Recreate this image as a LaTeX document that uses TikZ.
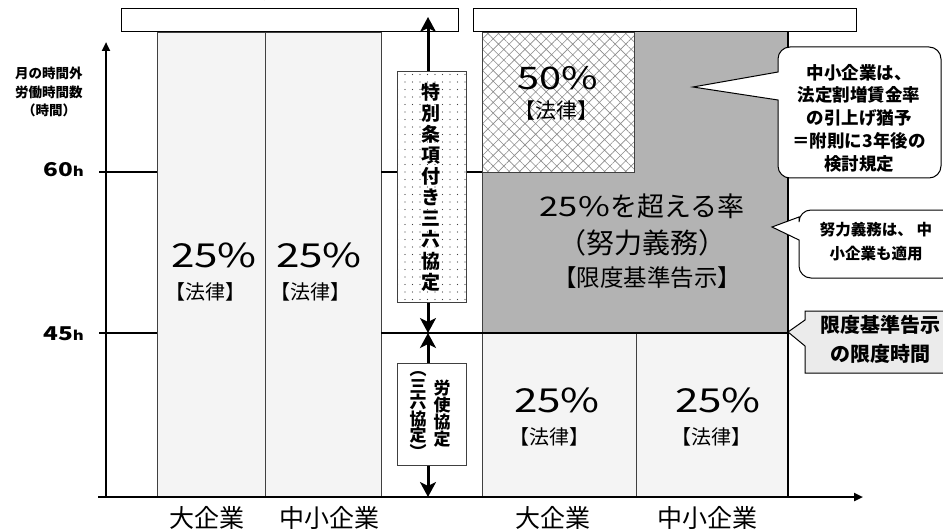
\documentclass[tikz,border=0pt]{standalone}
\usepackage{fontspec}
\setmainfont{Noto Sans CJK JP}
\usetikzlibrary{arrows.meta,patterns.meta}
\definecolor{barfill}{HTML}{F4F4F4}
\definecolor{barline}{HTML}{404040}
\definecolor{darkfill}{HTML}{B3B3B3}
\definecolor{notefill}{HTML}{EBEBEB}
\definecolor{hatchcol}{HTML}{8C8C8C}
\newcommand\widen[1]{\scalebox{1.28}[1]{#1}}
\newcommand\fs[2]{\fontsize{#1}{#2}\selectfont}
\begin{document}
\begin{tikzpicture}[x=1pt,y=-1pt,
  bar/.style={fill=barfill, draw=barline, line width=0.8pt},
  hline/.style={line width=2.6pt},
  axis/.style={line width=2.6pt, -{Triangle[length=9pt,width=8pt]}},
  span/.style={line width=3pt, {Stealth[length=15pt,width=16pt,inset=4pt]}-{Stealth[length=15pt,width=16pt,inset=4pt]}},
  hdr/.style={draw=black, fill=white, line width=1pt},
  lbl/.style={inner sep=0pt, align=center},
  callout/.style={draw=black, fill=white, line width=1pt},
]
\useasboundingbox (0,0) rectangle (943,532);

% level lines (left part, under the bars)
\draw[hline] (99,172) -- (157,172);
\draw[hline] (99,333) -- (157,333);

% current: two full bars
\draw[bar] (157,32) rectangle (265,497);
\draw[bar] (265,32) rectangle (381,497);

% revised: upper grey area
\fill[darkfill] (482,32) rectangle (788,333);
\draw[barline, line width=0.8pt] (482,32) -- (482,333);
% 50% cross-hatched block
\fill[white] (482,32) rectangle (634,172);
\fill[pattern={Hatch[angle=45,distance=7.5pt,line width=0.6pt]}, pattern color=hatchcol] (482,32) rectangle (634,172);
\draw[barline, line width=0.9pt] (482,32) rectangle (634,172);
% lower bars
\draw[bar] (482,333) rectangle (636,497);
\draw[bar] (636,333) rectangle (788,497);
\draw[line width=1.8pt] (788,32) -- (788,497);

% level lines (right part)
\draw[hline] (381,172) -- (482,172);
\draw[hline] (381,333) -- (788,333);

% axes
\draw[axis] (106,497) -- (106,42);
\draw[axis] (98,497) -- (863,497);

% header boxes
\draw[hdr] (121,9) rectangle (458,32);
\draw[hdr] (473,9) rectangle (856,32);
\node[anchor=base, inner sep=0pt, font=\bfseries\fs{21}{21}] (hcur) at (278,-1.5) {【現行】};
\node[anchor=base, inner sep=0pt, font=\bfseries\fs{21}{21}] (hnew) at (643,-1.5) {【改正後】};

% span arrows
\coordinate (atop) at (428,17);
\coordinate (amid) at (428,333);
\coordinate (abot) at (428,497);
\draw[span] (atop) -- (amid);
\draw[span] (amid) -- (abot);

% special clause box (dotted)
\fill[white] (397,71) rectangle (466,302);
\fill[pattern={Dots[distance=7.5pt,radius=0.7pt]}, pattern color=barline] (397,71) rectangle (466,302);
\draw[barline, line width=0.8pt] (397,71) rectangle (466,302);
\node[lbl, font=\bfseries\fs{19}{21.1}] (spc) at (431,187) {特\\別\\条\\項\\付\\き\\三\\六\\協\\定};

% labour agreement box
\draw[barline, fill=white, line width=0.8pt] (397,363) rectangle (466,465);
\node[lbl, font=\bfseries\fs{17}{17}] (lma) at (442,414) {労\\使\\協\\定};
\node[lbl, font=\bfseries\fs{17}{16.5}] (lmb) at (418,415) {︵\\三\\六\\協\\定\\︶};

% axis labels
\node[lbl, font=\bfseries\fs{13.5}{18.5}] (ylab) at (49,92) {月の時間外\\労働時間数\\（時間）};
\node[anchor=base east, inner sep=0pt] (l60) at (84,177) {\widen{\bfseries\fs{19}{19}60\fs{13}{13}h}};
\node[anchor=base east, inner sep=0pt] (l45) at (84,340) {\widen{\bfseries\fs{19}{19}45\fs{13}{13}h}};

% bottom labels
\node[lbl, font=\fs{25}{25}] (x1) at (207,518) {大企業};
\node[lbl, font=\fs{25}{25}] (x2) at (329,518) {中小企業};
\node[lbl, font=\fs{25}{25}] (x3) at (553,518) {大企業};
\node[lbl, font=\fs{25}{25}] (x4) at (707,518) {中小企業};

% bar texts
\node[lbl, font=\fs{33}{33}] (p1) at (214,255) {\widen{25\%}};
\node[lbl, font=\fs{20}{20}] (q1) at (205,292) {【法律】};
\node[lbl, font=\fs{33}{33}] (p2) at (319,255) {\widen{25\%}};
\node[lbl, font=\fs{20}{20}] (q2) at (310,292) {【法律】};
\node[lbl, font=\fs{33}{33}] (p3) at (557,400) {\widen{25\%}};
\node[lbl, font=\fs{20}{20}] (q3) at (549,437) {【法律】};
\node[lbl, font=\fs{33}{33}] (p4) at (718,400) {\widen{25\%}};
\node[lbl, font=\fs{20}{20}] (q4) at (711,437) {【法律】};
\node[lbl, font=\fs{31}{31}] (p5) at (558,78) {\widen{50\%}};
\node[lbl, font=\fs{21}{21}] (q5) at (556,111) {【法律】};

% grey area texts
\node[lbl, font=\fs{27}{27}] (g1) at (642,206) {\widen{25\%}を超える率};
\node[lbl, font=\fs{28}{28}] (g2) at (642,243) {（努力義務）};
\node[lbl, font=\fs{23.5}{23.5}] (g3) at (647,278) {【限度基準告示】};

% callout 1
\draw[callout] (693,87) -- (778,100) {[rounded corners=12pt] -- (778,178) -- (941,178) -- (941,47) -- (778,47)} -- (778,72) -- cycle;
\node[lbl, font=\bfseries\fs{17.5}{22.8}] (c1) at (859,118) {中小企業は、\\法定割増賃金率\\の引上げ猶予\\＝附則に3年後の\\検討規定};

% callout 2
\draw[callout] (772,227) -- (799,240) {[rounded corners=12pt] -- (799,278) -- (955,278) -- (955,210) -- (799,210)} -- (799,217) -- cycle;
\node[lbl, font=\bfseries\fs{15.5}{24}] (c2) at (876,242) {努力義務は、 中\\小企業も適用};

% callout 3
\draw[callout, fill=notefill] (788,332) -- (805,346) -- (805,373) -- (955,373) -- (955,311) -- (805,311) -- (805,320) -- cycle;
\node[lbl, font=\bfseries\fs{20}{29}] (c3) at (880,339) {限度基準告示\\の限度時間};
\end{tikzpicture}
\end{document}
